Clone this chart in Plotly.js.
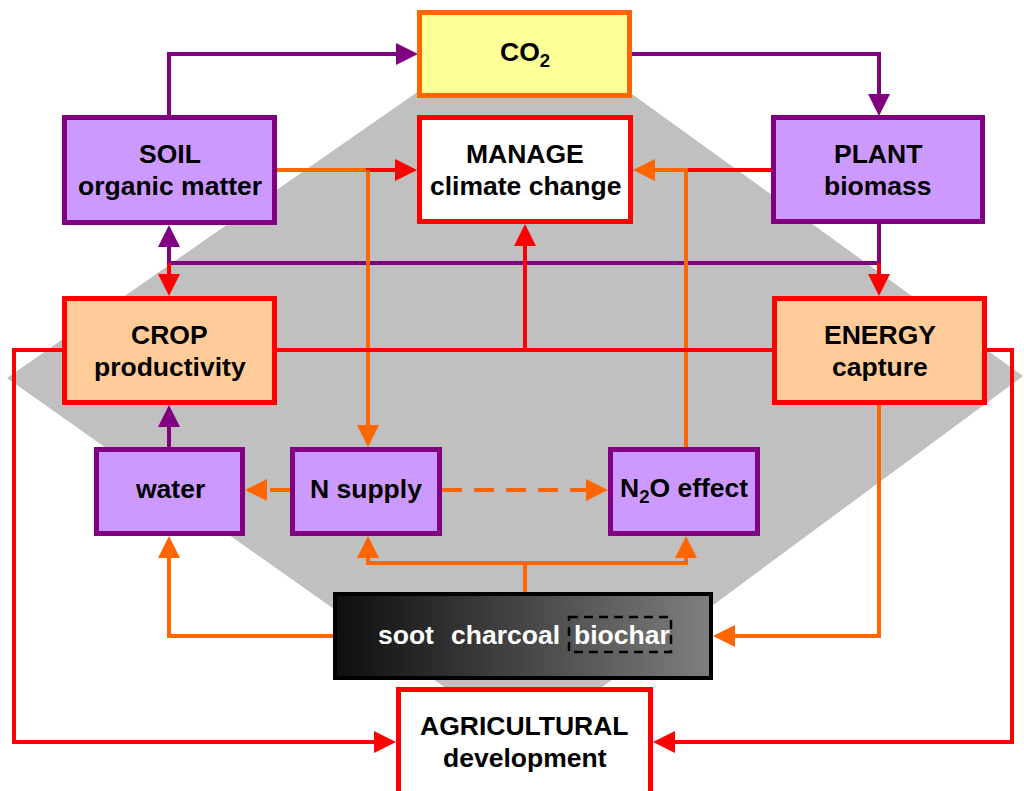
<!DOCTYPE html>
<html>
<head>
<meta charset="utf-8">
<script src="https://cdn.plot.ly/plotly-3.0.1.min.js"></script>
<style>html,body{margin:0;padding:0;background:#fff;}#chart{width:1024px;height:791px;}</style>
</head>
<body>
<div id="chart"></div>
<script>
// ---- diagram content ----
const boxNames = ['co2','soil','manage','plant','crop','energy','water','nsupply','n2o','soot','agri'];
const boxLine1 = ['CO<sub>2</sub>','SOIL','MANAGE','PLANT','CROP','ENERGY','water','N supply','N<sub>2</sub>O effect','','AGRICULTURAL'];
const boxLine2 = ['','organic matter','climate change','biomass','productivity','capture','','','','','development'];
const sootWords = ['soot','charcoal','biochar'];

// ---- geometry (pixel space, y down) ----
const geom = {
  co2:     {x0:417, x1:632, y0:10,  y1:98,  fill:'#FFFF99', line:'#FF6600'},
  soil:    {x0:62,  x1:277, y0:115, y1:225, fill:'#CC99FF', line:'#800080'},
  manage:  {x0:417, x1:633, y0:115, y1:224, fill:'#FFFFFF', line:'#FF0000'},
  plant:   {x0:771, x1:985, y0:115, y1:224, fill:'#CC99FF', line:'#800080'},
  crop:    {x0:62,  x1:277, y0:296, y1:405, fill:'#FFCC99', line:'#FF0000'},
  energy:  {x0:772, x1:987, y0:296, y1:405, fill:'#FFCC99', line:'#FF0000'},
  water:   {x0:94,  x1:245, y0:447, y1:536, fill:'#CC99FF', line:'#800080'},
  nsupply: {x0:290, x1:442, y0:447, y1:536, fill:'#CC99FF', line:'#800080'},
  n2o:     {x0:608, x1:760, y0:447, y1:536, fill:'#CC99FF', line:'#800080'},
  soot:    {x0:333, x1:713, y0:592, y1:680, fill:null,      line:'#000000'},
  agri:    {x0:396, x1:653, y0:687, y1:830, fill:'#FFFFFF', line:'#FF0000'}
};
const PUR='#800080', RED='#FF0000', ORG='#FF6600';
const connectors = [
  {p:[[169,117],[169,54],[418,54]], c:PUR, a:true},
  {p:[[632,54],[879,54],[879,116]], c:PUR, a:true},
  {p:[[879,224],[879,263],[169,263],[169,225]], c:PUR, a:true},
  {p:[[169,263],[169,296]], c:RED, a:true},
  {p:[[879,263],[879,296]], c:RED, a:true},
  {p:[[275,170],[368,170]], c:ORG, a:false},
  {p:[[366,170],[417,170]], c:RED, a:true},
  {p:[[368,170],[368,447]], c:ORG, a:true},
  {p:[[772,170],[686,170]], c:RED, a:false},
  {p:[[688,170],[633,170]], c:ORG, a:true},
  {p:[[686,447],[686,168]], c:ORG, a:false},
  {p:[[277,350],[772,350]], c:RED, a:false},
  {p:[[525,350],[525,224]], c:RED, a:true},
  {p:[[62,350],[14,350],[14,742],[396,742]], c:RED, a:true},
  {p:[[987,350],[1012,350],[1012,742],[653,742]], c:RED, a:true},
  {p:[[169,447],[169,405]], c:PUR, a:true},
  {p:[[290,490],[245,490]], c:ORG, a:true, d:'dash'},
  {p:[[442,490],[608,490]], c:ORG, a:true, d:'dash'},
  {p:[[525,592],[525,563]], c:ORG, a:false},
  {p:[[366,563],[688,563]], c:ORG, a:false},
  {p:[[368,563],[368,536]], c:ORG, a:true},
  {p:[[686,563],[686,536]], c:ORG, a:true},
  {p:[[333,636],[169,636],[169,536]], c:ORG, a:true},
  {p:[[879,405],[879,636],[713,636]], c:ORG, a:true}
];

const shapes = [];
// gray diamond background
shapes.push({type:'path', xref:'x', yref:'y', layer:'below',
  path:'M525,17 L1023,376 L525,744 L7,378 Z', fillcolor:'#C0C0C0', line:{width:0}});

const AL=22, AW=11;
connectors.forEach(cn=>{
  const pts = cn.p.map(q=>q.slice());
  let tip=null, dx=0, dy=0;
  if(cn.a){
    const n=pts.length; const e=pts[n-1], s=pts[n-2];
    const L=Math.hypot(e[0]-s[0], e[1]-s[1]); dx=(e[0]-s[0])/L; dy=(e[1]-s[1])/L;
    tip=e.slice();
    pts[n-1]=[e[0]-dx*(AL-3), e[1]-dy*(AL-3)];
  }
  const path = 'M'+pts.map(q=>q[0]+','+q[1]).join(' L');
  const ln={color:cn.c, width:4};
  if(cn.d) ln.dash='20px,12px';
  shapes.push({type:'path', xref:'x', yref:'y', path:path, line:ln});
  if(tip){
    const bx=tip[0]-dx*AL, by=tip[1]-dy*AL;
    const px=-dy, py=dx;
    shapes.push({type:'path', xref:'x', yref:'y',
      path:'M'+tip[0]+','+tip[1]+' L'+(bx+px*AW)+','+(by+py*AW)+' L'+(bx-px*AW)+','+(by-py*AW)+' Z',
      fillcolor:cn.c, line:{width:0}});
  }
});

const BW=5;
boxNames.forEach(k=>{
  const g=geom[k]; const w = k==='soot'?4:BW; const h=w/2;
  const s={type:'rect', xref:'x', yref:'y', x0:g.x0+h, x1:g.x1-h, y0:g.y0+h, y1:g.y1-h,
    line:{color:g.line, width:w}};
  s.fillcolor = g.fill ? g.fill : 'rgba(0,0,0,0)';
  shapes.push(s);
});
// dashed frame around biochar
shapes.push({type:'rect', xref:'x', yref:'y', x0:569, x1:671, y0:617, y1:652,
  line:{color:'#000000', width:2.5, dash:'9px,6px'}, fillcolor:'rgba(0,0,0,0)'});

const font = {family:'Liberation Sans, Arial, sans-serif', size:26.5, color:'#000000'};
const annotations=[];
boxNames.forEach((k,i)=>{
  const g=geom[k];
  const cx=(g.x0+g.x1)/2;
  if(k==='soot') return;
  if(boxLine2[i]){
    const top = k==='agri' ? 726 : (g.y0+39);
    annotations.push({x:cx, y:top, xref:'x', yref:'y', text:'<b>'+boxLine1[i]+'</b>', showarrow:false, font:font, xanchor:'center', yanchor:'middle'});
    annotations.push({x:cx, y:top+32, xref:'x', yref:'y', text:'<b>'+boxLine2[i]+'</b>', showarrow:false, font:font, xanchor:'center', yanchor:'middle'});
  } else {
    const yc = k==='n2o' ? 490 : (k==='co2' ? 54 : 489);
    annotations.push({x:cx, y:yc, xref:'x', yref:'y', text:'<b>'+boxLine1[i]+'</b>', showarrow:false, font:font, xanchor:'center', yanchor:'middle'});
  }
});
const sootX=[406,505,622];
sootWords.forEach((w,i)=>{
  annotations.push({x:sootX[i], y:635, xref:'x', yref:'y', text:'<b>'+w+'</b>', showarrow:false,
    font:Object.assign({}, font, {color:'#FFFFFF'}), xanchor:'center', yanchor:'middle'});
});

const sg=geom.soot;
const traces=[{type:'scatter', mode:'lines', x:[sg.x0,sg.x1,sg.x1,sg.x0,sg.x0], y:[sg.y0,sg.y0,sg.y1,sg.y1,sg.y0],
  fill:'toself', line:{width:0, color:'rgba(0,0,0,0)'}, hoverinfo:'skip', showlegend:false,
  fillgradient:{type:'horizontal', colorscale:[[0,'#0d0d0d'],[1,'#7f7f7f']]}}];

const layout={width:1024, height:791, margin:{l:0,r:0,t:0,b:0}, paper_bgcolor:'#ffffff', plot_bgcolor:'#ffffff',
  xaxis:{range:[0,1024], visible:false, fixedrange:true},
  yaxis:{range:[791,0], visible:false, fixedrange:true},
  shapes:shapes, annotations:annotations, showlegend:false};
Plotly.newPlot('chart', traces, layout, {staticPlot:true, displayModeBar:false});
</script>
</body>
</html>
